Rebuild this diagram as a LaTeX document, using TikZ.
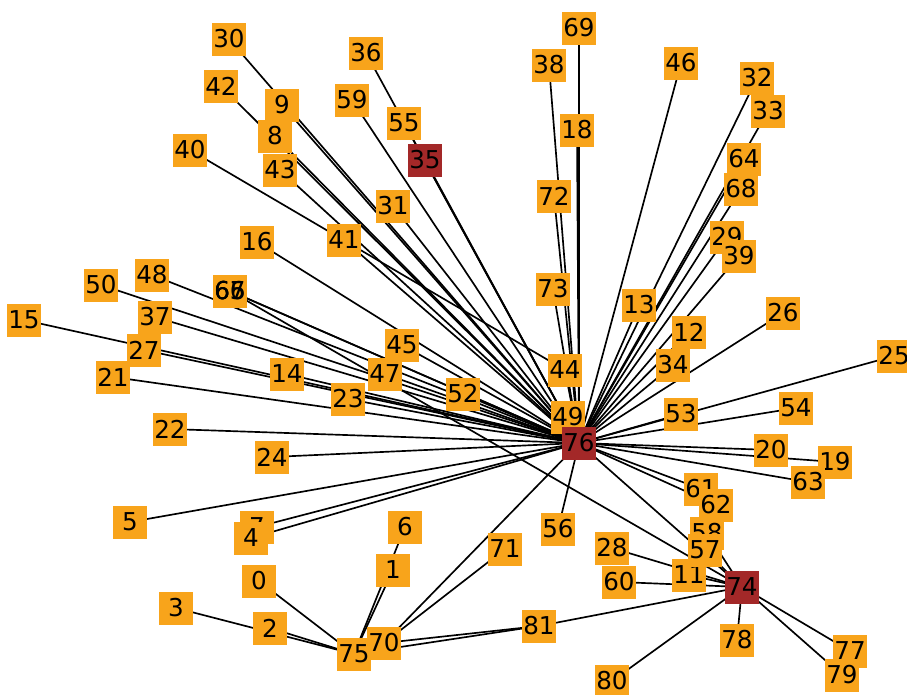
\documentclass[tikz,border=0pt]{standalone}
\usepackage{fontspec}
\setsansfont{DejaVu Sans}
\usetikzlibrary{backgrounds}

\definecolor{leaforange}{RGB}{248,164,27}
\definecolor{hubred}{RGB}{163,40,40}

\begin{document}
\begin{tikzpicture}[x=0.02cm, y=-0.02cm,
    leaf/.style={fill=leaforange, minimum width=0.68cm, minimum height=0.66cm, inner sep=0pt,
                 font=\sffamily\fontsize{14}{14}\selectfont},
    hub/.style={leaf, fill=hubred},
    stacked/.style={leaf, fill=none}, % label only, printed over another box
    link/.style={line width=0.95pt, black}]

\useasboundingbox (0,0) rectangle (907,694);

% Orange leaves, placed at pixel positions (y grows downwards)
\foreach \n/\x/\y in {0/259/581, 1/393/570, 2/270/628, 3/176/608, 7/257/527, 4/251/538,
                      5/130/522, 6/405/527, 9/282/105, 8/275/136, 11/689/575, 12/689/332,
                      13/639/305, 14/287/374, 15/24/320, 16/257/242, 18/577/130, 19/835/462,
                      20/771/450, 21/113/377, 22/170/429, 23/348/399, 24/272/457, 25/894/356,
                      26/783/313, 27/144/350, 28/612/548, 29/727/237, 30/229/39, 31/393/206,
                      32/757/78, 33/768/111, 34/673/365, 36/366/53, 37/155/317, 38/549/65,
                      39/739/256, 40/190/150, 41/344/240, 42/221/86, 43/280/170, 44/565/370,
                      45/402/345, 46/681/63, 47/385/374, 48/152/275, 49/568/417, 50/101/285,
                      52/463/394, 53/681/414, 54/796/408, 55/404/123, 56/558/529, 58/707/533,
                      57/705/550, 59/352/100, 60/619/582, 61/701/489, 62/716/505, 63/808/482,
                      64/744/159, 65/230/291, 68/741/189, 69/579/28,
                      70/384/643, 71/505/549, 72/554/196, 73/553/289, 75/354/654, 77/850/651,
                      78/737/640, 79/842/675, 80/612/681, 81/539/626}
    \node[leaf] (n\n) at (\x,\y) {\n};

% 66 and 67 sit right on top of 65
\node[stacked] (n66) at (n65) {66};
\node[stacked] (n67) at (n65) {67};

% Red hubs
\node[hub] (n35) at (425,160) {35};
\node[hub] (n76) at (579,443) {76};
\node[hub] (n74) at (742,587) {74};

% Edges, centre to centre, under the boxes
\begin{scope}[on background layer]
    \foreach \a in {4,5,7,8,9,12,13,14,15,16,18,19,20,21,22,23,24,25,26,27,29,30,31,32,33,
                    34,35,36,37,38,39,41,42,43,44,45,46,47,48,49,50,52,53,54,55,56,59,61,62,
                    63,64,65,66,68,69,70,72,73,74}
        \draw[link] (n76.center) -- (n\a.center);
    \foreach \a in {11,28,57,58,60,67,77,78,79,80,81}
        \draw[link] (n74.center) -- (n\a.center);
    \foreach \a in {0,1,2,3,6,81}
        \draw[link] (n75.center) -- (n\a.center);
    \draw[link] (n70.center) -- (n71.center);
    \draw[link] (n70.center) -- (n81.center);
    \draw[link] (n40.center) -- (n44.center);
\end{scope}
\end{tikzpicture}
\end{document}
